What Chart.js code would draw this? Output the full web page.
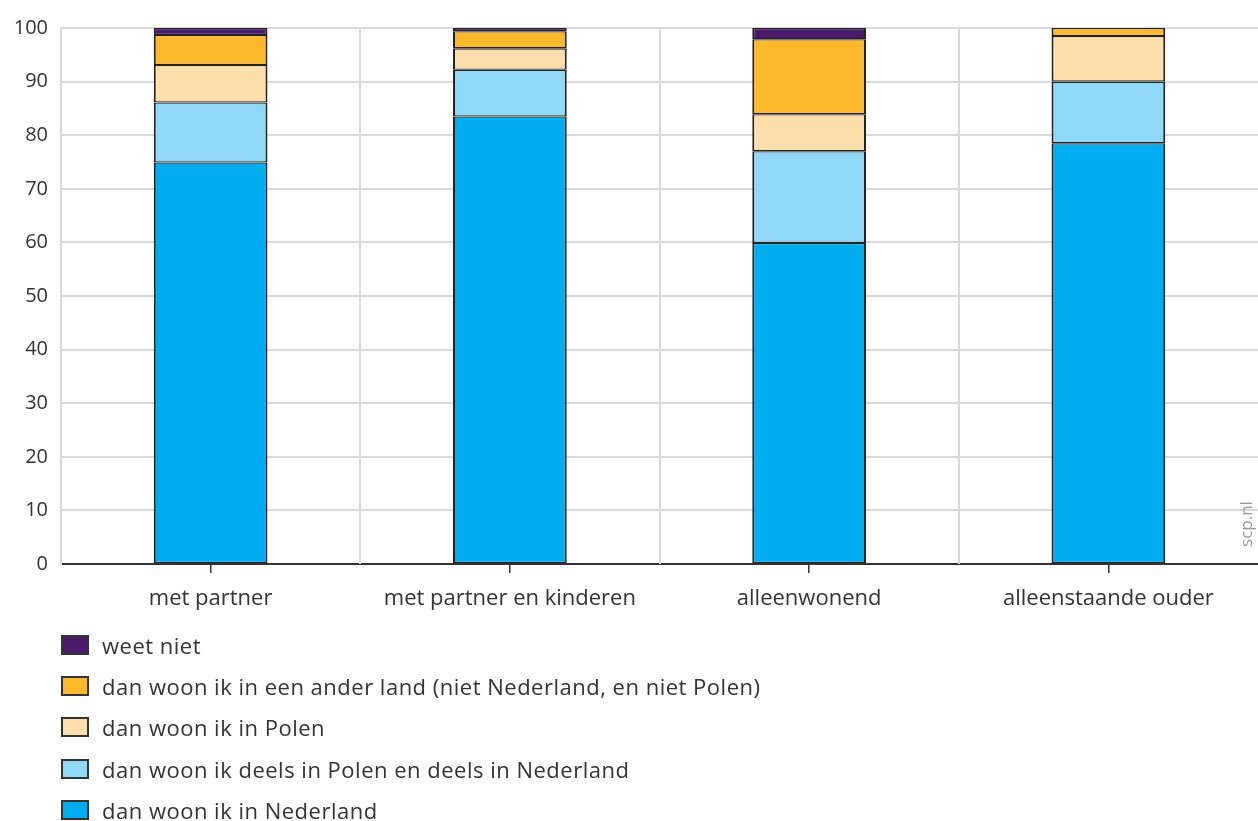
<!DOCTYPE html>
<html>
<head>
<meta charset="utf-8">
<script src="https://cdn.jsdelivr.net/npm/chart.js@4/dist/chart.umd.min.js"></script>
<style>
  html, body { margin: 0; padding: 0; background: #fff; }
  #wrap { position: relative; width: 1258px; height: 821px; overflow: hidden; }
  canvas { position: absolute; left: 0; top: 0; }
  #legend { position: absolute; left: 61px; top: 624px; font-family: "Open Sans", sans-serif; font-size: 22px; letter-spacing: 0.5px; color: #333; }
  .item { display: flex; align-items: center; height: 41.3px; }
  .box { width: 24px; height: 16px; border: 2px solid #333; margin-right: 13px; box-sizing: content-box; }
  #src { position: absolute; left: 1214px; top: 512px; transform: rotate(-90deg); transform-origin: center; font-family: "Open Sans", sans-serif; font-size: 17px; line-height: 24px; color: #999; width: 64px; text-align: center; }
</style>
</head>
<body>
<div id="wrap">
  <canvas id="c" width="1258" height="821"></canvas>
  <div id="legend"></div>
  <div id="src">scp.nl</div>
</div>
<script>
const categories = ["met partner", "met partner en kinderen", "alleenwonend", "alleenstaande ouder"];
const seriesNames = [
  "dan woon ik in Nederland",
  "dan woon ik deels in Polen en deels in Nederland",
  "dan woon ik in Polen",
  "dan woon ik in een ander land (niet Nederland, en niet Polen)",
  "weet niet"
];
const nederland = [74.9, 83.5, 59.9, 78.5];
const deels = [11.2, 8.7, 17.1, 11.5];
const polen = [7.0, 4.0, 6.9, 8.5];
const anderLand = [5.6, 3.2, 14.0, 1.5];
const weetNiet = [1.3, 0.6, 2.1, 0.0];
const yTicks = [0, 10, 20, 30, 40, 50, 60, 70, 80, 90, 100];

const colors = ["#00AEEF", "#8FD8F8", "#FEDEAB", "#FDB92E", "#4B1A6B"];
const seriesValues = [nederland, deels, polen, anderLand, weetNiet];

const datasets = seriesNames.map((name, i) => ({
  label: name,
  data: seriesValues[i],
  backgroundColor: colors[i],
  borderColor: "#222222",
  borderWidth: { top: 1.3, bottom: 1.3, left: 2, right: 2 },
  borderSkipped: false,
  barPercentage: 0.38,
  categoryPercentage: 1.0
}));

const boundaryLines = {
  id: "boundaryLines",
  beforeDatasetsDraw(chart) {
    const x = chart.scales.x, a = chart.chartArea, ctx = chart.ctx;
    ctx.save();
    ctx.strokeStyle = "#d9d9d9";
    ctx.lineWidth = 2;
    for (let i = 0; i < categories.length - 1; i++) {
      const px = Math.round((x.getPixelForValue(i) + x.getPixelForValue(i + 1)) / 2);
      ctx.beginPath();
      ctx.moveTo(px, a.top);
      ctx.lineTo(px, a.bottom);
      ctx.stroke();
    }
    ctx.restore();
  }
};

new Chart(document.getElementById("c"), {
  type: "bar",
  data: { labels: categories, datasets },
  plugins: [boundaryLines],
  options: {
    responsive: false,
    animation: false,
    layout: { padding: { top: 28, right: 0, left: 0, bottom: 0 } },
    plugins: { legend: { display: false }, tooltip: { enabled: false } },
    scales: {
      x: {
        stacked: true,
        afterFit(s) { s.height = 257; },
        grid: { offset: false, drawOnChartArea: false, color: "#333", tickLength: 9, lineWidth: 1.5 },
        border: { color: "#333", width: 2 },
        ticks: { font: { family: "Open Sans", size: 22 }, color: "#333", padding: 13 }
      },
      y: {
        stacked: true,
        min: 0, max: 100,
        afterFit(s) { s.width = 61; },
        afterBuildTicks(s) { s.ticks = yTicks.map(v => ({ value: v })); },
        grid: { color: "#d9d9d9", lineWidth: 2, drawTicks: false },
        border: { color: "#d9d9d9", width: 2 },
        ticks: { font: { family: "Open Sans", size: 20 }, color: "#333", padding: 13 }
      }
    }
  }
});

const legend = document.getElementById("legend");
for (let i = seriesNames.length - 1; i >= 0; i--) {
  const row = document.createElement("div");
  row.className = "item";
  const box = document.createElement("span");
  box.className = "box";
  box.style.background = colors[i];
  const t = document.createElement("span");
  t.textContent = seriesNames[i];
  row.appendChild(box);
  row.appendChild(t);
  legend.appendChild(row);
}
</script>
</body>
</html>
